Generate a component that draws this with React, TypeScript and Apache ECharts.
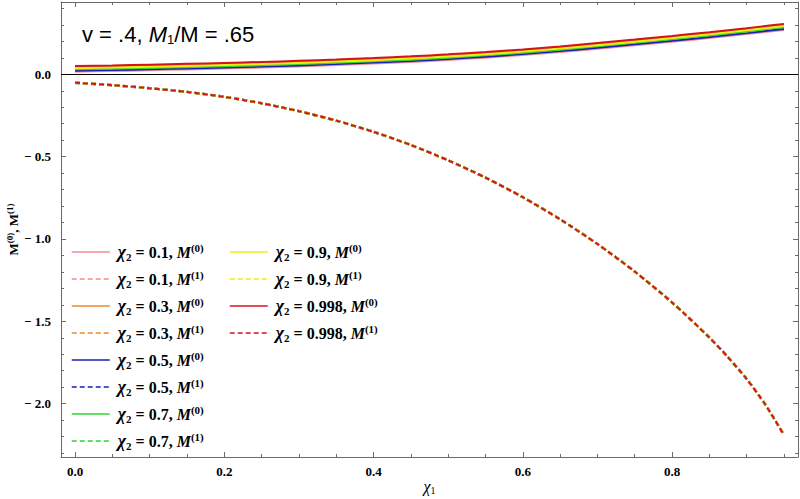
import React, { useEffect, useRef } from "react";
import * as echarts from "echarts";

// chi1 sample positions
const xValues = [0, 0.05, 0.1, 0.15, 0.2, 0.25, 0.3, 0.35, 0.4, 0.45, 0.5, 0.55, 0.6, 0.65, 0.7, 0.75, 0.8, 0.85, 0.875, 0.9, 0.925, 0.95];

// chi2 values of the legend
const chiLabels = ["0.1", "0.3", "0.5", "0.7", "0.9", "0.998"];
const seriesColors = ["#F48A94", "#E8892C", "#1C1CB8", "#35D435", "#EDED14", "#D4141C"];

// M^(0) curves (one per chi2)
const m0Chi01 = [0.016, 0.020, 0.0245, 0.0295, 0.035, 0.041, 0.048, 0.056, 0.065, 0.075, 0.087, 0.101, 0.117, 0.135, 0.155, 0.176, 0.198, 0.220, 0.232, 0.244, 0.257, 0.269];
const m0Chi03 = [0.044, 0.048, 0.0525, 0.0575, 0.063, 0.069, 0.076, 0.084, 0.093, 0.103, 0.115, 0.129, 0.145, 0.163, 0.184, 0.205, 0.227, 0.250, 0.262, 0.274, 0.287, 0.300];
const m0Chi05 = [0.022, 0.026, 0.0305, 0.0355, 0.041, 0.047, 0.054, 0.062, 0.071, 0.081, 0.093, 0.107, 0.123, 0.141, 0.161, 0.182, 0.204, 0.226, 0.238, 0.250, 0.263, 0.275];
const m0Chi07 = [0.030, 0.034, 0.0385, 0.0435, 0.049, 0.055, 0.062, 0.070, 0.079, 0.089, 0.101, 0.115, 0.131, 0.149, 0.170, 0.191, 0.213, 0.236, 0.248, 0.260, 0.273, 0.286];
const m0Chi09 = [0.037, 0.041, 0.0455, 0.0505, 0.056, 0.062, 0.069, 0.077, 0.086, 0.096, 0.108, 0.122, 0.138, 0.156, 0.177, 0.198, 0.220, 0.243, 0.255, 0.267, 0.280, 0.293];
const m0Chi0998 = [0.050, 0.054, 0.0585, 0.0635, 0.069, 0.075, 0.082, 0.090, 0.099, 0.109, 0.121, 0.135, 0.151, 0.169, 0.190, 0.211, 0.233, 0.256, 0.268, 0.280, 0.293, 0.306];

// M^(1) curves: all six coincide in the picture
const m1Chi01 = [-0.051, -0.066, -0.0845, -0.107, -0.137, -0.176, -0.224, -0.2815, -0.3495, -0.4295, -0.5225, -0.6275, -0.7465, -0.8805, -1.0305, -1.198, -1.3855, -1.598, -1.718, -1.8505, -2.0055, -2.1905];
const m1Chi03 = m1Chi01;
const m1Chi05 = m1Chi01;
const m1Chi07 = m1Chi01;
const m1Chi09 = m1Chi01;
const m1Chi0998 = m1Chi01;

const m0Sets = [m0Chi01, m0Chi03, m0Chi05, m0Chi07, m0Chi09, m0Chi0998];
const m1Sets = [m1Chi01, m1Chi03, m1Chi05, m1Chi07, m1Chi09, m1Chi0998];

// ticks
const xMajorTicks = [0, 0.2, 0.4, 0.6, 0.8];
const xMinorTicks = [0.05, 0.1, 0.15, 0.25, 0.3, 0.35, 0.45, 0.5, 0.55, 0.65, 0.7, 0.75, 0.85, 0.9, 0.95];
const yMajorTicks = [-2, -1.5, -1, -0.5, 0];
const yMinorTicks = [-2.3, -2.2, -2.1, -1.9, -1.8, -1.7, -1.6, -1.4, -1.3, -1.2, -1.1, -0.9, -0.8, -0.7, -0.6, -0.4, -0.3, -0.2, -0.1, 0.1, 0.2, 0.3, 0.4];

const X_MIN = -0.0188;
const X_MAX = 0.9688;
const Y_MIN = -2.324;
const Y_MAX = 0.439;

const FRAME = "#6a6a6a";
const SERIF = "'Liberation Serif', 'DejaVu Serif', serif";
const SANS = "'Liberation Sans', Arial, sans-serif";

function seriesName(i: number, k: number) {
  return `χ2 = ${chiLabels[i]}, M(${k})`;
}

export default function App() {
  const ref = useRef<HTMLDivElement>(null);

  useEffect(() => {
    document.body.style.margin = "0";
    if (!ref.current) return;
    const chart = echarts.init(ref.current, undefined, { renderer: "svg" });

    const richMap: Record<string, string> = {};
    const series: any[] = [];
    const names: string[] = [];
    chiLabels.forEach((c, i) => {
      [0, 1].forEach((k) => {
        const name = seriesName(i, k);
        names.push(name);
        richMap[name] = `{chi|χ}{sub|2}{t| = ${c}, }{m|M}{sup|(${k})}`;
        const vals = k === 0 ? m0Sets[i] : m1Sets[i];
        const isTop = i === chiLabels.length - 1;
        const s: any = {
          type: "line",
          name,
          data: xValues.map((x, j) => [x, vals[j]]),
          symbol: "none",
          showSymbol: false,
          smooth: 0.25,
          xAxisIndex: 0,
          yAxisIndex: 0,
          itemStyle: { color: seriesColors[i] },
          lineStyle: {
            color: seriesColors[i],
            width: k === 0 ? 2 : isTop ? 2 : 2.4,
            type: k === 0 ? "solid" : [5, 3],
          },
          emphasis: { disabled: true },
          silent: true,
        };
        if (i === 0 && k === 0) {
          s.markLine = {
            silent: true,
            symbol: ["none", "none"],
            label: { show: false },
            lineStyle: { color: "#000", width: 1, type: "solid" },
            data: [{ yAxis: 0 }],
            z: 1,
          };
        }
        series.push(s);
      });
    });

    const legendRich = {
      chi: { fontFamily: SERIF, fontStyle: "italic", fontWeight: "bold", fontSize: 18, lineHeight: 20, color: "#000" },
      sub: { fontFamily: SERIF, fontWeight: "bold", fontSize: 11, lineHeight: 12, verticalAlign: "bottom", color: "#000" },
      t: { fontFamily: SERIF, fontWeight: "bold", fontSize: 16, lineHeight: 20, color: "#000" },
      m: { fontFamily: SERIF, fontStyle: "italic", fontWeight: "bold", fontSize: 16, lineHeight: 20, color: "#000" },
      sup: { fontFamily: SERIF, fontWeight: "bold", fontSize: 11, lineHeight: 12, verticalAlign: "top", color: "#000" },
    };

    const legendCommon = {
      orient: "vertical",
      top: 242,
      padding: 0,
      itemGap: 7,
      itemWidth: 38,
      itemHeight: 14,
      selectedMode: false,
      itemStyle: { opacity: 0 },
      lineStyle: { width: 1.5 },
      formatter: (n: string) => richMap[n] || n,
      textStyle: { rich: legendRich, padding: [0, 0, 0, 3] },
    };

    const tickLabelStyle = {
      fontFamily: SERIF,
      fontWeight: "bold",
      fontSize: 13,
      color: "#000",
    };

    const xAxisBase = {
      type: "value",
      min: X_MIN,
      max: X_MAX,
      splitLine: { show: false },
      gridIndex: 0,
    };
    const yAxisBase = {
      type: "value",
      min: Y_MIN,
      max: Y_MAX,
      splitLine: { show: false },
      gridIndex: 0,
    };

    const option: any = {
      animation: false,
      backgroundColor: "#fff",
      grid: {
        left: 61,
        right: 2,
        top: 2,
        bottom: 42,
        containLabel: false,
        outerBoundsMode: "none",
      },
      xAxis: [
        {
          ...xAxisBase,
          position: "bottom",
          axisLine: { show: true, onZero: false, lineStyle: { color: FRAME, width: 1 } },
          axisTick: { show: true, inside: true, length: 5, customValues: xMajorTicks, lineStyle: { color: FRAME } },
          axisLabel: {
            ...tickLabelStyle,
            customValues: xMajorTicks,
            margin: 8,
            formatter: (v: number) => v.toFixed(1),
          },
          name: "{i|χ}{s|1}",
          nameLocation: "middle",
          nameGap: 20,
          nameMoveOverlap: false,
          nameTextStyle: {
            rich: {
              i: { fontFamily: SERIF, fontStyle: "italic", fontSize: 16, lineHeight: 18, color: "#000" },
              s: { fontFamily: SERIF, fontSize: 10, lineHeight: 11, verticalAlign: "bottom", color: "#000" },
            },
          },
        },
        {
          ...xAxisBase,
          position: "bottom",
          axisLine: { show: false, onZero: false },
          axisTick: { show: true, inside: true, length: 3, customValues: xMinorTicks, lineStyle: { color: FRAME } },
          axisLabel: { show: false },
        },
        {
          ...xAxisBase,
          position: "top",
          axisLine: { show: true, onZero: false, lineStyle: { color: FRAME, width: 1 } },
          axisTick: { show: true, inside: true, length: 5, customValues: xMajorTicks, lineStyle: { color: FRAME } },
          axisLabel: { show: false },
        },
        {
          ...xAxisBase,
          position: "top",
          axisLine: { show: false, onZero: false },
          axisTick: { show: true, inside: true, length: 3, customValues: xMinorTicks, lineStyle: { color: FRAME } },
          axisLabel: { show: false },
        },
      ],
      yAxis: [
        {
          ...yAxisBase,
          position: "left",
          axisLine: { show: true, onZero: false, lineStyle: { color: FRAME, width: 1 } },
          axisTick: { show: true, inside: true, length: 5, customValues: yMajorTicks, lineStyle: { color: FRAME } },
          axisLabel: {
            ...tickLabelStyle,
            customValues: yMajorTicks,
            margin: 10,
            formatter: (v: number) =>
              Math.abs(v) < 1e-9 ? "0.0" : v < 0 ? "\u2212 " + Math.abs(v).toFixed(1) : v.toFixed(1),
          },
          name: "{b|M}{p|(0)}{b|, M}{p|(1)}",
          nameLocation: "middle",
          nameGap: 40,
          nameMoveOverlap: false,
          nameTextStyle: {
            rich: {
              b: { fontFamily: SERIF, fontWeight: "bold", fontSize: 13, lineHeight: 16, color: "#000" },
              p: { fontFamily: SERIF, fontWeight: "bold", fontSize: 9, lineHeight: 10, verticalAlign: "top", color: "#000" },
            },
          },
        },
        {
          ...yAxisBase,
          position: "left",
          axisLine: { show: false, onZero: false },
          axisTick: { show: true, inside: true, length: 3, customValues: yMinorTicks, lineStyle: { color: FRAME } },
          axisLabel: { show: false },
        },
        {
          ...yAxisBase,
          position: "right",
          axisLine: { show: true, onZero: false, lineStyle: { color: FRAME, width: 1 } },
          axisTick: { show: true, inside: true, length: 5, customValues: yMajorTicks, lineStyle: { color: FRAME } },
          axisLabel: { show: false },
        },
        {
          ...yAxisBase,
          position: "right",
          axisLine: { show: false, onZero: false },
          axisTick: { show: true, inside: true, length: 3, customValues: yMinorTicks, lineStyle: { color: FRAME } },
          axisLabel: { show: false },
        },
      ],
      legend: [
        { ...legendCommon, left: 71, data: names.slice(0, 8) },
        { ...legendCommon, left: 229, data: names.slice(8) },
      ],
      graphic: [
        {
          type: "text",
          x: 82,
          y: 34,
          style: {
            text: "{a|v = .4, }{i|M}{s|1}{a|/M = .65}",
            verticalAlign: "middle",
            rich: {
              a: { fontFamily: SANS, fontSize: 22, lineHeight: 24, fill: "#000" },
              i: { fontFamily: SANS, fontStyle: "italic", fontSize: 22, lineHeight: 24, fill: "#000" },
              s: { fontFamily: SANS, fontSize: 13, lineHeight: 14, verticalAlign: "bottom", fill: "#000" },
            },
          },
        },
      ],
      series,
    };

    chart.setOption(option);
    return () => chart.dispose();
  }, []);

  return <div ref={ref} style={{ width: 800, height: 499 }} />;
}
